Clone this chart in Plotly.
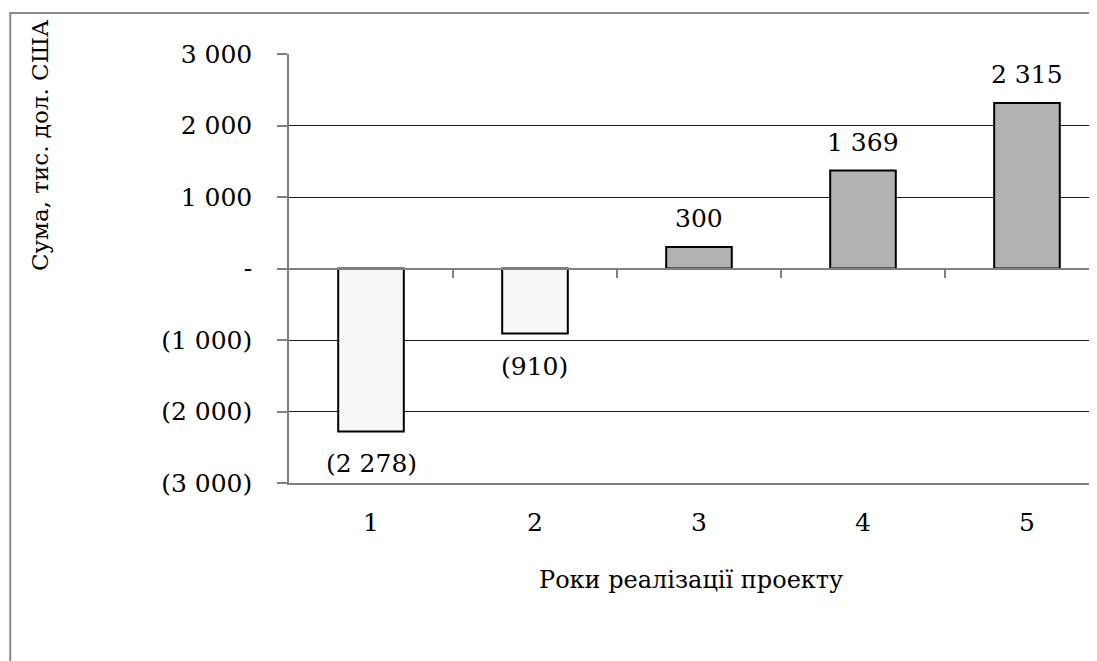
import plotly.graph_objects as go

years = [1, 2, 3, 4, 5]
values = [-2278, -910, 300, 1369, 2315]
value_labels = ["(2 278)", "(910)", "300", "1 369", "2 315"]
y_tickvals = [3000, 2000, 1000, 0, -1000, -2000, -3000]
y_ticktext = ["3 000", "2 000", "1 000", "-", "(1 000)", "(2 000)", "(3 000)"]
x_title = "Роки реалізації проекту"
y_title = "Сума, тис. дол. США"

FONT = "DejaVu Serif"
FS = 25

colors = ["#F7F7F7" if v < 0 else "#B2B2B2" for v in values]

fig = go.Figure()
fig.add_trace(go.Bar(
    x=years, y=values, width=0.4,
    marker=dict(color=colors, line=dict(color="#000000", width=2)),
    showlegend=False, hoverinfo="skip",
))
fig.add_trace(go.Scatter(x=[1], y=[0], xaxis="x2", mode="markers",
                         marker=dict(opacity=0), showlegend=False, hoverinfo="skip"))

for xv, v, t in zip(years, values, value_labels):
    fig.add_annotation(
        x=xv, y=v, xref="x", yref="y", text=t, showarrow=False,
        yanchor="bottom" if v >= 0 else "top",
        yshift=12 if v >= 0 else -16,
        font=dict(family=FONT, size=FS, color="#000000"),
    )

fig.add_annotation(x=-0.308, y=0.788, xref="paper", yref="paper", text=y_title,
                   textangle=-90, showarrow=False, xanchor="center", yanchor="middle",
                   font=dict(family=FONT, size=23, color="#000000"))
fig.add_annotation(x=0.4975, y=-0.226, xref="paper", yref="paper", text=x_title,
                   showarrow=False, xanchor="center", yanchor="middle",
                   font=dict(family=FONT, size=24, color="#000000"))

fig.add_shape(type="rect", xref="paper", yref="paper", x0=-0.345, x1=1.2, y0=-0.6, y1=1.0956,
              line=dict(color="#888888", width=2), fillcolor="rgba(0,0,0,0)", layer="below")

fig.update_layout(
    width=1089, height=653, autosize=False,
    margin=dict(l=281, r=0, t=46, b=178, pad=0),
    paper_bgcolor="#FFFFFF", plot_bgcolor="#FFFFFF",
    font=dict(family=FONT, size=FS, color="#000000"),
    xaxis=dict(
        range=[0.5, 5.427], tickvals=years, ticktext=[str(y) for y in years],
        showgrid=False, zeroline=False, showline=True, linecolor="#808080", linewidth=1.5,
        ticks="", ticklabelstandoff=16,
        tickfont=dict(family=FONT, size=FS, color="#000000"),
    ),
    xaxis2=dict(
        range=[0.5, 5.427], overlaying="x", anchor="free", position=0.5, side="bottom",
        tickvals=[1.5, 2.5, 3.5, 4.5], showticklabels=False, ticks="outside", ticklen=9,
        tickcolor="#808080", tickwidth=1.5, showgrid=False, zeroline=False,
        showline=True, linecolor="#808080", linewidth=1.5,
    ),
    yaxis=dict(
        range=[-3000, 3000], tickvals=y_tickvals, ticktext=y_ticktext,
        showgrid=True, gridcolor="#1a1a1a", gridwidth=1, zeroline=False,
        showline=True, linecolor="#808080", linewidth=1.5,
        ticks="outside", ticklen=10, tickcolor="#808080", tickwidth=1.5,
        ticklabelstandoff=20,
        tickfont=dict(family=FONT, size=FS, color="#000000"),
    ),
)

fig.write_html("out.html")
